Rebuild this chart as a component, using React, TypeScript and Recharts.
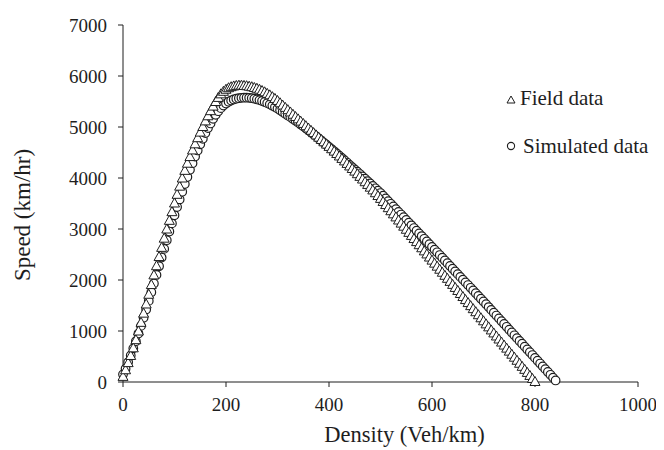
import { FC } from 'react';
import { ScatterChart, Scatter, XAxis, YAxis } from 'recharts';

const FONT = '"Liberation Serif", "Times New Roman", serif';
const INK = '#1e1e1e';

// density (Veh/km) sampled every 5
const density = [
    0, 5, 10, 15, 20, 25, 30, 35, 40, 45, 50, 55, 60, 65, 70, 75, 80, 85, 90, 95,
    100, 105, 110, 115, 120, 125, 130, 135, 140, 145, 150, 155, 160, 165, 170, 175, 180, 185, 190, 195,
    200, 205, 210, 215, 220, 225, 230, 235, 240, 245, 250, 255, 260, 265, 270, 275, 280, 285, 290, 295,
    300, 305, 310, 315, 320, 325, 330, 335, 340, 345, 350, 355, 360, 365, 370, 375, 380, 385, 390, 395,
    400, 405, 410, 415, 420, 425, 430, 435, 440, 445, 450, 455, 460, 465, 470, 475, 480, 485, 490, 495,
    500, 505, 510, 515, 520, 525, 530, 535, 540, 545, 550, 555, 560, 565, 570, 575, 580, 585, 590, 595,
    600, 605, 610, 615, 620, 625, 630, 635, 640, 645, 650, 655, 660, 665, 670, 675, 680, 685, 690, 695,
    700, 705, 710, 715, 720, 725, 730, 735, 740, 745, 750, 755, 760, 765, 770, 775, 780, 785, 790, 795,
    800, 805, 810, 815, 820, 825, 830, 835, 840,
];

// Field data speed, density 0..800
const fieldSpeed = [
    110, 240, 380, 520, 670, 830, 1000, 1170, 1350, 1530, 1720, 1910, 2100, 2280, 2460, 2640, 2820, 3000, 3170, 3340,
    3510, 3680, 3840, 4000, 4150, 4290, 4420, 4550, 4670, 4790, 4900, 5010, 5120, 5220, 5320, 5410, 5500, 5580, 5650, 5700,
    5740, 5770, 5790, 5805, 5815, 5820, 5820, 5815, 5810, 5800, 5790, 5775, 5760, 5740, 5715, 5690, 5660, 5630, 5595, 5560,
    5520, 5475, 5430, 5385, 5340, 5295, 5250, 5205, 5160, 5115, 5070, 5025, 4980, 4935, 4890, 4845, 4800, 4755, 4710, 4665,
    4620, 4574, 4527, 4480, 4432, 4384, 4335, 4286, 4236, 4186, 4135, 4084, 4032, 3980, 3927, 3874, 3820, 3766, 3711, 3656,
    3600, 3540, 3479, 3418, 3358, 3297, 3237, 3176, 3116, 3055, 2995, 2934, 2874, 2813, 2753, 2692, 2632, 2571, 2511, 2450,
    2390, 2330, 2271, 2211, 2152, 2092, 2033, 1973, 1914, 1854, 1795, 1735, 1676, 1616, 1557, 1497, 1438, 1378, 1319, 1259,
    1200, 1140, 1081, 1021, 962, 902, 843, 783, 724, 664, 605, 545, 486, 426, 367, 307, 248, 188, 129, 69,
    10,
];

// Simulated data speed, density 0..840
const simulatedSpeed = [
    150, 260, 390, 520, 660, 800, 950, 1100, 1260, 1420, 1590, 1760, 1930, 2100, 2270, 2440, 2610, 2780, 2950, 3110,
    3270, 3430, 3580, 3730, 3880, 4020, 4160, 4290, 4420, 4540, 4660, 4770, 4880, 4980, 5070, 5160, 5240, 5310, 5370, 5420,
    5460, 5495, 5520, 5540, 5555, 5565, 5572, 5575, 5575, 5572, 5565, 5555, 5542, 5527, 5510, 5490, 5468, 5444, 5418, 5390,
    5360, 5328, 5295, 5261, 5227, 5193, 5158, 5122, 5086, 5049, 5012, 4974, 4935, 4896, 4856, 4816, 4775, 4734, 4693, 4652,
    4610, 4567, 4524, 4480, 4436, 4392, 4348, 4303, 4258, 4213, 4168, 4123, 4077, 4031, 3985, 3939, 3892, 3845, 3798, 3751,
    3705, 3652, 3599, 3546, 3494, 3441, 3388, 3335, 3283, 3230, 3177, 3124, 3072, 3019, 2966, 2913, 2861, 2808, 2755, 2702,
    2650, 2596, 2543, 2489, 2436, 2382, 2329, 2275, 2222, 2168, 2115, 2061, 2008, 1954, 1901, 1847, 1794, 1740, 1687, 1633,
    1580, 1525, 1469, 1414, 1359, 1303, 1248, 1192, 1137, 1082, 1026, 971, 916, 860, 805, 750, 694, 639, 584, 528,
    473, 418, 362, 307, 252, 196, 141, 86, 30,
];

const xTicks = [0, 200, 400, 600, 800, 1000];
const yTicks = [0, 1000, 2000, 3000, 4000, 5000, 6000, 7000];

const fieldData = fieldSpeed.map((speed, i) => ({ density: density[i], speed }));
const simulatedData = simulatedSpeed.map((speed, i) => ({ density: density[i], speed }));

const Triangle = (props: any) => {
    const { cx, cy } = props;
    return (
        <polygon
            points={`${cx},${cy - 5} ${cx + 5},${cy + 4} ${cx - 5},${cy + 4}`}
            fill="#fff"
            stroke={INK}
            strokeWidth={1}
        />
    );
};

const Ring = (props: any) => {
    const { cx, cy } = props;
    return <circle cx={cx} cy={cy} r={4.3} fill="#fff" stroke={INK} strokeWidth={1.2} />;
};

const XTitle = (props: any) => {
    const { viewBox } = props;
    return (
        <text
            x={viewBox.x + viewBox.width / 2 + 24}
            y={434}
            textAnchor="middle"
            fontSize={22.5}
            fontFamily={FONT}
            fill={INK}
        >
            Density (Veh/km)
        </text>
    );
};

const YTitle = () => (
    <text
        x={14}
        y={207}
        dy="0.35em"
        transform="rotate(-90, 14, 207)"
        textAnchor="middle"
        fontSize={23}
        fontFamily={FONT}
        fill={INK}
    >
        Speed (km/hr)
    </text>
);

const App: FC = () => {
    const tick = { fontSize: 19, fill: INK, fontFamily: FONT };
    return (
        <div style={{ position: 'relative', width: 656, height: 440 }}>
            <ScatterChart
                width={656}
                height={440}
                margin={{ top: 17, right: 26, bottom: 6, left: 0 }}
            >
                <XAxis
                    type="number"
                    dataKey="density"
                    domain={[0, 1000]}
                    ticks={xTicks}
                    height={60}
                    tickSize={5}
                    tickMargin={11}
                    stroke={INK}
                    tick={tick}
                    label={<XTitle />}
                />
                <YAxis
                    type="number"
                    dataKey="speed"
                    domain={[0, 7000]}
                    ticks={yTicks}
                    width={115}
                    tickSize={5}
                    tickMargin={11}
                    stroke={INK}
                    tick={tick}
                    label={<YTitle />}
                />
                <Scatter
                    name="Simulated data"
                    data={simulatedData}
                    shape={Ring}
                    isAnimationActive={false}
                />
                <Scatter
                    name="Field data"
                    data={fieldData}
                    shape={Triangle}
                    isAnimationActive={false}
                />
            </ScatterChart>
            <svg
                width={166}
                height={100}
                style={{ position: 'absolute', left: 490, top: 70 }}
            >
                <polygon points="13,18 17,25 9,25" fill="#fff" stroke={INK} strokeWidth={1} />
                <text x={22} y={27} fontSize={21} fontFamily={FONT} fill={INK}>
                    Field data
                </text>
                <circle cx={13} cy={68} r={3.6} fill="#fff" stroke={INK} strokeWidth={1.1} />
                <text x={25} y={75} fontSize={21} fontFamily={FONT} fill={INK}>
                    Simulated data
                </text>
            </svg>
        </div>
    );
};

export default App;
